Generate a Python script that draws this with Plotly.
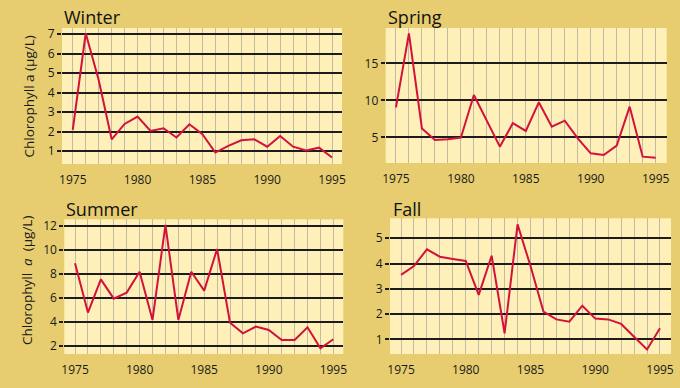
import plotly.graph_objects as go

years = list(range(1975, 1996))

winter = [2.08, 7.05, 4.65, 1.6, 2.39, 2.77, 2.03, 2.17, 1.69, 2.37, 1.86,
          0.92, 1.26, 1.55, 1.6, 1.22, 1.77, 1.22, 1.02, 1.17, 0.66]
spring = [9.05, 19.05, 6.2, 4.64, 4.73, 4.95, 10.72, 7.34, 3.74, 6.9, 5.86,
          9.73, 6.44, 7.25, 4.86, 2.84, 2.61, 3.87, 9.14, 2.39, 2.25]
summer = [8.88, 4.76, 7.54, 5.93, 6.43, 8.18, 4.15, 12.1, 4.15, 8.18, 6.6,
          10.08, 3.92, 3.03, 3.59, 3.31, 2.47, 2.47, 3.53, 1.78, 2.53]
fall = [3.55, 3.9, 4.56, 4.27, 4.18, 4.1, 2.76, 4.31, 1.24, 5.55, 3.9,
        2.1, 1.79, 1.7, 2.33, 1.82, 1.79, 1.61, 1.1, 0.6, 1.44]

panel_titles = ["Winter", "Spring", "Summer", "Fall"]
x_tick_vals = [1975, 1980, 1985, 1990, 1995]
winter_yticks = [1, 2, 3, 4, 5, 6, 7]
spring_yticks = [5, 10, 15]
summer_yticks = [2, 4, 6, 8, 10, 12]
fall_yticks = [1, 2, 3, 4, 5]
winter_ytitle = "Chlorophyll a (µg/L)"
summer_ytitle = "Chlorophyll  <i>a</i>  (µg/L)"

W, H = 680, 388
OUTER = "#E7CD6F"
PLOT_BG = "#FEF0B8"
RED = "#D3123C"
VGRID = "#C2BAA2"
HGRID = "#1c1c1c"
FONT = "Open Sans"

def px(x):
    return x / W

def py(y):
    return 1 - y / H

panels = [
    (winter, (62, 342), (28, 164), (1974.17, 1995.77), (0.33, 7.32), winter_yticks,
     winter_ytitle, (28, 96.5), (61.5, 17)),
    (spring, (385.7, 666.7), (28, 163), (1974.21, 1995.85), (1.53, 19.77), spring_yticks,
     None, None, (385.5, 17)),
    (summer, (64.3, 343.3), (219.3, 354), (1974.17, 1995.77), (1.3, 12.56), summer_yticks,
     summer_ytitle, (27, 281), (63.5, 209)),
    (fall, (390, 671), (218.3, 354), (1974.15, 1995.85), (0.42, 5.79), fall_yticks,
     None, None, (390.5, 209)),
]

fig = go.Figure()
annotations = []
for i, (data, xd, yd, xr, yr, yt, ytitle, ypos, tpos) in enumerate(panels):
    n = "" if i == 0 else str(i + 1)
    fig.add_trace(go.Scatter(
        x=years, y=data, mode="lines",
        line=dict(color=RED, width=2),
        xaxis="x" + n, yaxis="y" + n, showlegend=False, hoverinfo="skip"))
    xa = dict(
        domain=[px(xd[0]), px(xd[1])], range=list(xr), anchor="y" + n,
        tickvals=x_tick_vals, showgrid=True, gridcolor=VGRID, gridwidth=1.2,
        minor=dict(dtick=1, tick0=1975, showgrid=True, gridcolor=VGRID, gridwidth=1.2),
        ticks="outside", ticklen=5, tickcolor="rgba(0,0,0,0)",
        showline=False, zeroline=False, automargin=False,
        tickfont=dict(family=FONT, size=12, color="#1a1a1a"),
        fixedrange=True)
    ya = dict(
        domain=[py(yd[1]), py(yd[0])], range=list(yr), anchor="x" + n,
        tickvals=yt, showgrid=True, gridcolor=HGRID, gridwidth=1.5,
        ticks="outside", ticklen=4, tickcolor=HGRID, tickwidth=1.5,
        showline=False, zeroline=False, automargin=False,
        tickfont=dict(family=FONT, size=12, color="#1a1a1a"),
        fixedrange=True)
    fig.update_layout(**{"xaxis" + n: xa, "yaxis" + n: ya})
    if ytitle:
        annotations.append(dict(
            text=ytitle, x=px(ypos[0]), y=py(ypos[1]), xref="paper", yref="paper",
            xanchor="center", yanchor="middle", textangle=-90, showarrow=False,
            font=dict(family=FONT, size=13.5, color="#1a1a1a")))
    annotations.append(dict(
        text=panel_titles[i], x=px(tpos[0]), y=py(tpos[1]), xref="paper", yref="paper",
        xanchor="left", yanchor="middle", showarrow=False,
        font=dict(family=FONT, size=18, color="#111")))

fig.update_layout(
    width=W, height=H, margin=dict(l=0, r=0, t=0, b=0),
    paper_bgcolor=OUTER, plot_bgcolor=PLOT_BG,
    annotations=annotations, showlegend=False)

fig.write_html("out.html", config={"displayModeBar": False})
